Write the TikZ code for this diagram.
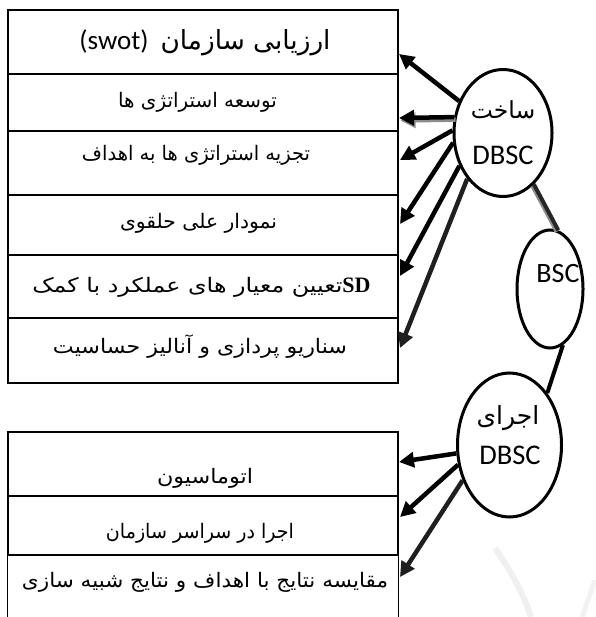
\documentclass[tikz,border=0pt]{standalone}
\usepackage{fontspec}
\usepackage{graphicx}
\usetikzlibrary{shapes.geometric,arrows.meta}
\TeXXeTstate=1
\newfontfamily\arabicfont[Script=Arabic]{DejaVu Sans}
\newfontfamily\calfont{Carlito}
\newfontfamily\timesfont{Liberation Serif}
\begin{document}
\begin{tikzpicture}[x=1pt,y=-1pt,
  rowbox/.style={draw, line width=1.3pt, minimum width=390pt, inner sep=0pt, anchor=center},
  openbox/.style={draw=none, minimum width=390pt, inner sep=0pt, anchor=center},
  txt/.style={inner sep=0pt, anchor=center, font=\arabicfont\fontsize{20}{24}\selectfont},
  ell/.style={draw, ellipse, line width=3pt, inner sep=0pt},
  arr/.style={line width=4.5pt, -{Triangle[length=15pt,width=15pt]}},
  conn/.style={line width=4pt}]
\useasboundingbox (0,0) rectangle (595,617);

% faint watermark
\draw[line width=6pt, black!6] (495,548) .. controls (513,574) and (525,598) .. (531,617);
\draw[line width=5pt, black!5] (595,580) .. controls (589,598) .. (582,617);

% upper box
\node[rowbox, minimum height=64pt] (r1) at (203,42) {};
\node[rowbox, minimum height=57pt] (r2) at (203,102.5) {};
\node[rowbox, minimum height=64pt] (r3) at (203,163) {};
\node[rowbox, minimum height=60pt] (r4) at (203,225) {};
\node[rowbox, minimum height=63pt] (r5) at (203,286.5) {};
\node[rowbox, minimum height=65pt] (r6) at (203,350.5) {};

\node[txt] (t1) at (205,43) {{\calfont\fontsize{27}{30}\selectfont (swot)}\hspace{12pt}\resizebox{170pt}{!}{\arabicfont\beginR ارزیابی سازمان\endR}};
\node[txt] (t2) at (197.5,102) {\resizebox{159pt}{\height}{\arabicfont\beginR توسعه استراتژی ها\endR}};
\node[txt] (t3) at (196,155) {\resizebox{228pt}{\height}{\arabicfont\beginR تجزیه استراتژی ها به اهداف\endR}};
\node[txt] (t4) at (198.5,223) {\resizebox{157pt}{\height}{\arabicfont\beginR نمودار علی حلقوی\endR}};
\node[txt] (t5) at (201.5,287) {\resizebox{310pt}{\height}{\arabicfont\beginR تعیین معیار های عملکرد با کمک\endR}{\timesfont\bfseries\fontsize{22}{24}\selectfont SD}};
\node[txt] (t6) at (200,347) {\resizebox{294pt}{\height}{\arabicfont\beginR سناریو پردازی و آنالیز حساسیت\endR}};

% lower box
\node[rowbox, minimum height=64pt] (b1) at (203,464) {};
\node[rowbox, minimum height=59pt] (b2) at (203,525.5) {};
\node[openbox, minimum height=62pt] (b3) at (203,586) {};
\draw[line width=1.3pt] (b3.south west) -- (b3.north west) -- (b3.north east) -- (b3.south east);

\node[txt] (u1) at (205,478) {\resizebox{96pt}{\height}{\arabicfont\beginR اتوماسیون\endR}};
\node[txt] (u2) at (200,533) {\resizebox{188pt}{\height}{\arabicfont\beginR اجرا در سراسر سازمان\endR}};
\node[txt] (u3) at (205,582) {\resizebox{366pt}{\height}{\arabicfont\beginR مقایسه نتایج با اهداف و نتایج شبیه سازی\endR}};

% ellipses
\node[ell, minimum width=98pt, minimum height=127pt] (e1) at (503,133) {};
\node[ell, minimum width=66pt, minimum height=118pt] (bsc) at (550,289) {};
\node[ell, minimum width=104pt, minimum height=144pt] (e3) at (509.5,445) {};

\node[txt, font=\arabicfont\fontsize{23.5}{26}\selectfont] (e1a) at (503,110) {\beginR ساخت\endR};
\node[txt, font=\calfont\fontsize{28.5}{30}\selectfont] (e1b) at (503,155) {DBSC};
\node[txt, font=\calfont\fontsize{28}{30}\selectfont] (bsct) at (558,274) {BSC};
\node[txt, font=\arabicfont\fontsize{25}{27}\selectfont] (e3a) at (508,418) {\beginR اجرای\endR};
\node[txt, font=\calfont\fontsize{28.5}{30}\selectfont] (e3b) at (510,455) {DBSC};

% arrow end points
\coordinate (p1) at (399,54);
\coordinate (p2) at (399,118);
\coordinate (p3) at (400,160);
\coordinate (p4) at (400,224);
\coordinate (p5) at (400,276);
\coordinate (p6) at (400,348);
\coordinate (q1) at (399,462);
\coordinate (q2) at (400,517);
\coordinate (q3) at (400,577);

% connectors
\draw[conn, black!45, transform canvas={shift={(-1.5pt,-1.5pt)}}] (e1.301.5) -- (bsc.82);
\draw[conn, black!85] (e1.301.5) -- (bsc.82);
\draw[conn] (bsc.283) -- (e3.54);

\draw[arr] (e1.144) -- (p1);
\draw[arr, black!45, transform canvas={shift={(1.5pt,-2.5pt)}}] (e1.162) -- (p2);
\draw[arr] (e1.162) -- (p2);
\draw[arr] (e1.177) -- (p3);
\draw[arr] (e1.191) -- (p4);
\draw[arr] (e1.217) -- (p5);
\draw[arr, black!88] (e1.232) -- (p6);

\draw[arr] (e3.189) -- (q1);
\draw[arr] (e3.201) -- (q2);
\draw[arr, black!88] (e3.217) -- (q3);
\end{tikzpicture}
\end{document}
